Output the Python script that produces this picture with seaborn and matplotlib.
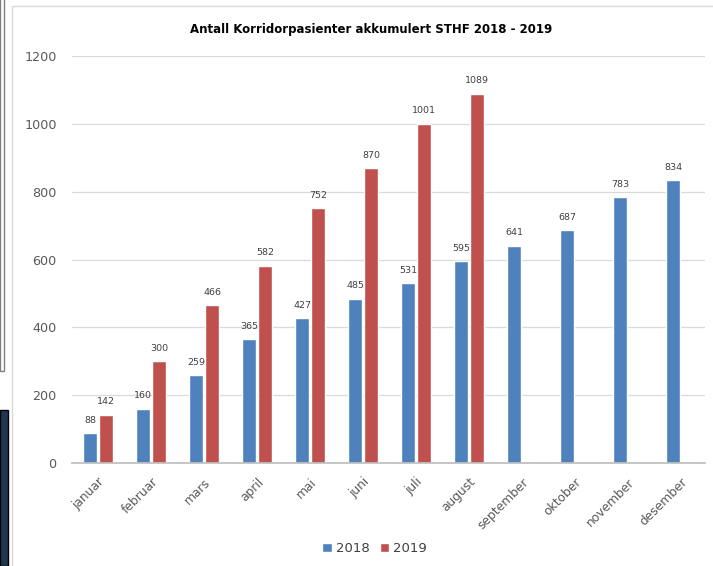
import numpy as np
import pandas as pd
import matplotlib
matplotlib.use("Agg")
import matplotlib.pyplot as plt
import seaborn as sns
from matplotlib.patches import Rectangle

months = ["januar", "februar", "mars", "april", "mai", "juni", "juli",
          "august", "september", "oktober", "november", "desember"]
v2018 = [88, 160, 259, 365, 427, 485, 531, 595, 641, 687, 783, 834]
v2019 = [142, 300, 466, 582, 752, 870, 1001, 1089]
years = ["2018", "2019"]
title = "Antall Korridorpasienter akkumulert STHF 2018 - 2019"

rows = []
for i, m in enumerate(months):
    rows.append({"month": m, "year": "2018", "value": v2018[i]})
    rows.append({"month": m, "year": "2019",
                 "value": v2019[i] if i < len(v2019) else np.nan})
df = pd.DataFrame(rows)

sns.set_theme(style="white")
plt.rcParams['font.family'] = ['DejaVu Sans']

fig = plt.figure(figsize=(7.13, 5.66), dpi=100)
ax = fig.add_axes([0.101, 0.182, 0.888, 0.719])

palette = {"2018": "#4F81BD", "2019": "#C0504D"}
sns.barplot(data=df, x="month", y="value", hue="year", order=months,
            hue_order=years, palette=palette, width=0.6, gap=0.1,
            saturation=1, ax=ax, legend=True, err_kws={"linewidth": 0})

for cont in ax.containers:
    labels = [("" if np.isnan(v) else f"{int(v)}") for v in cont.datavalues]
    ax.bar_label(cont, labels=labels, padding=6, fontsize=6.8, color="#404040")

ax.set_ylim(0, 1200)
ax.set_yticks(range(0, 1201, 200))
ax.yaxis.grid(True, color="#D9D9D9", linewidth=0.9)
ax.set_axisbelow(True)
ax.set_xlim(-0.49, 11.45)
for s in ["top", "right", "left"]:
    ax.spines[s].set_visible(False)
ax.spines["bottom"].set_color("#BFBFBF")
ax.set_xlabel("")
ax.set_ylabel("")
ax.tick_params(axis="y", labelsize=9.2, colors="#595959", length=0, pad=11)
ax.tick_params(axis="x", labelsize=8.8, colors="#595959", length=0, pad=9)
plt.setp(ax.get_xticklabels(), rotation=45, ha="right", rotation_mode="anchor")

ax.legend(loc="upper center", bbox_to_anchor=(0.478, -0.165), ncol=2,
          frameon=False, fontsize=9.5, handlelength=0.7, handleheight=0.7,
          handletextpad=0.3, columnspacing=0.8, labelcolor="#404040")

fig.text(0.52, 0.947, title, ha="center", va="center", fontsize=8.5,
         fontweight="bold", color="#000000")

# chart frame and screenshot edges
fig.patches.append(Rectangle((0.017, -0.01), 1.0, 1.0, transform=fig.transFigure,
                             fill=False, edgecolor="#D9D9D9", linewidth=1))
fig.patches.append(Rectangle((0.0, 0.345), 0.006, 0.66, transform=fig.transFigure,
                             fill=False, edgecolor="#808080", linewidth=1))
fig.patches.append(Rectangle((0.0, 0.0), 0.011, 0.275, transform=fig.transFigure,
                             facecolor="#1F3550", edgecolor="#000000", linewidth=1))

fig.savefig("out.png", dpi=100)
